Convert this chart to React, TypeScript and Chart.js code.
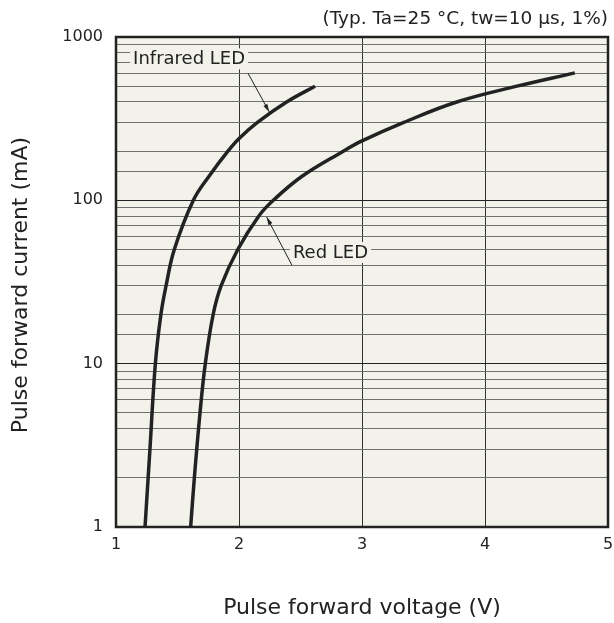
import React, { useEffect, useRef } from "react";
import { Chart, registerables } from "chart.js";

Chart.register(...registerables);

const irVoltage = [1.236, 1.276, 1.32, 1.365, 1.407, 1.474, 1.629, 1.755, 1.91, 2.003, 2.15, 2.387, 2.618];
const irCurrent = [1, 3, 10, 20, 30, 50, 100, 140, 200, 240, 300, 400, 500];
const redVoltage = [1.607, 1.637, 1.683, 1.726, 1.79, 1.855, 1.99, 2.16, 2.279, 2.51, 2.848, 3.0, 3.34, 3.77, 4.26, 4.73];
const redCurrent = [1, 2, 5, 10, 20, 30, 50, 80, 100, 140, 200, 231, 300, 400, 500, 603];
const xTicks = [1, 2, 3, 4, 5];
const yTicks = [1, 10, 100, 1000];
const titleText = "(Typ. Ta=25 °C, tw=10 µs, 1%)";
const xTitle = "Pulse forward voltage (V)";
const yTitle = "Pulse forward current (mA)";

// annotation: label text, label center (V, mA), leader start (V, mA), arrow tip (V, mA)
const irLabel = { text: "Infrared LED", at: [1.594, 730], from: [2.073, 600], tip: [2.246, 348] };
const redLabel = { text: "Red LED", at: [2.744, 47.6], from: [2.431, 40], tip: [2.225, 79] };

const FONT = "'DejaVu Sans', Verdana, sans-serif";
const INK = "#222222";
const BG = "#f2f1ea";

export default function App() {
  const ref = useRef<HTMLCanvasElement | null>(null);
  useEffect(() => {
    if (!ref.current) return;
    const toPts = (xs: number[], ys: number[]) => xs.map((x, i) => ({ x, y: ys[i] }));

    const plugin = {
      id: "deco",
      beforeDraw(chart: any) {
        const { ctx, chartArea: a } = chart;
        ctx.save();
        ctx.fillStyle = BG;
        ctx.fillRect(a.left, a.top, a.right - a.left, a.bottom - a.top);
        ctx.restore();
      },
      afterDatasetsDraw(chart: any) {
        const { ctx } = chart;
        const xs = chart.scales.x;
        const ys = chart.scales.y;
        const drawLabel = (l: any, padX: number) => {
          ctx.save();
          ctx.font = `18px ${FONT}`;
          const w = ctx.measureText(l.text).width;
          const cx = xs.getPixelForValue(l.at[0]);
          const cy = ys.getPixelForValue(l.at[1]);
          ctx.fillStyle = BG;
          ctx.fillRect(cx - w / 2 - padX, cy - 11, w + padX * 2, 21);
          ctx.fillStyle = INK;
          ctx.textAlign = "center";
          ctx.textBaseline = "middle";
          ctx.fillText(l.text, cx, cy);
          const x0 = xs.getPixelForValue(l.from[0]);
          const y0 = ys.getPixelForValue(l.from[1]);
          const x1 = xs.getPixelForValue(l.tip[0]);
          const y1 = ys.getPixelForValue(l.tip[1]);
          ctx.strokeStyle = INK;
          ctx.lineWidth = 1;
          ctx.beginPath();
          ctx.moveTo(x0, y0);
          ctx.lineTo(x1, y1);
          ctx.stroke();
          const ang = Math.atan2(y1 - y0, x1 - x0);
          const len = 8;
          const half = 2.2;
          ctx.beginPath();
          ctx.moveTo(x1, y1);
          ctx.lineTo(x1 - len * Math.cos(ang) + half * Math.sin(ang), y1 - len * Math.sin(ang) - half * Math.cos(ang));
          ctx.lineTo(x1 - len * Math.cos(ang) - half * Math.sin(ang), y1 - len * Math.sin(ang) + half * Math.cos(ang));
          ctx.closePath();
          ctx.fillStyle = INK;
          ctx.fill();
          ctx.restore();
        };
        drawLabel(irLabel, 3);
        drawLabel(redLabel, 3);
      },
      afterDraw(chart: any) {
        const { ctx, chartArea: a } = chart;
        ctx.save();
        ctx.strokeStyle = INK;
        ctx.lineWidth = 2.5;
        ctx.strokeRect(a.left, a.top, a.right - a.left, a.bottom - a.top);
        ctx.fillStyle = INK;
        ctx.font = `18.5px ${FONT}`;
        ctx.textBaseline = "middle";
        ctx.textAlign = "right";
        ctx.fillText(titleText, 608, 19);
        ctx.font = `22px ${FONT}`;
        ctx.textAlign = "center";
        ctx.fillText(xTitle, (a.left + a.right) / 2, 608);
        ctx.translate(21, 285);
        ctx.rotate(-Math.PI / 2);
        ctx.fillText(yTitle, 0, 0);
        ctx.restore();
      },
    };

    const chart = new Chart(ref.current, {
      type: "scatter",
      data: {
        datasets: [
          {
            type: "line",
            label: "Infrared LED",
            data: toPts(irVoltage, irCurrent),
            borderColor: INK,
            borderWidth: 3.5,
            pointRadius: 0,
            fill: false,
            tension: 0.4,
          },
          {
            type: "line",
            label: "Red LED",
            data: toPts(redVoltage, redCurrent),
            borderColor: INK,
            borderWidth: 3.5,
            pointRadius: 0,
            fill: false,
            tension: 0.4,
          },
        ],
      },
      options: {
        responsive: false,
        animation: false,
        events: [],
        layout: { padding: { top: 37, right: 6, left: 0, bottom: 0 } },
        plugins: { legend: { display: false }, tooltip: { enabled: false }, title: { display: false } },
        scales: {
          x: {
            type: "linear",
            min: 1,
            max: 5,
            afterBuildTicks: (s: any) => {
              s.ticks = xTicks.map((v) => ({ value: v }));
            },
            afterFit: (s: any) => {
              s.height = 96;
              s.paddingLeft = 0;
              s.paddingRight = 0;
            },
            ticks: {
              color: INK,
              font: { family: FONT, size: 16 },
              padding: 8,
              maxRotation: 0,
              autoSkip: false,
            },
            grid: { color: "#333333", lineWidth: 1, drawTicks: false },
            border: { display: false },
          },
          y: {
            type: "logarithmic",
            min: 1,
            max: 1000,
            afterFit: (s: any) => {
              s.width = 116;
              s.paddingTop = 0;
              s.paddingBottom = 0;
            },
            ticks: {
              color: INK,
              font: { family: FONT, size: 16 },
              padding: 13,
              autoSkip: false,
              callback: (v: any) => (yTicks.includes(Number(v)) ? String(v) : ""),
            },
            grid: {
              drawTicks: false,
              lineWidth: 1,
              color: (c: any) => (yTicks.includes(Number(c.tick?.value)) ? "#222222" : "#707070"),
            },
            border: { display: false },
          },
        },
      },
      plugins: [plugin],
    } as any);
    return () => chart.destroy();
  }, []);
  return (
    <div style={{ position: "absolute", left: 0, top: 0, width: 614, height: 623, background: "#fff" }}>
      <canvas ref={ref} width={614} height={623} style={{ width: 614, height: 623 }} />
    </div>
  );
}
